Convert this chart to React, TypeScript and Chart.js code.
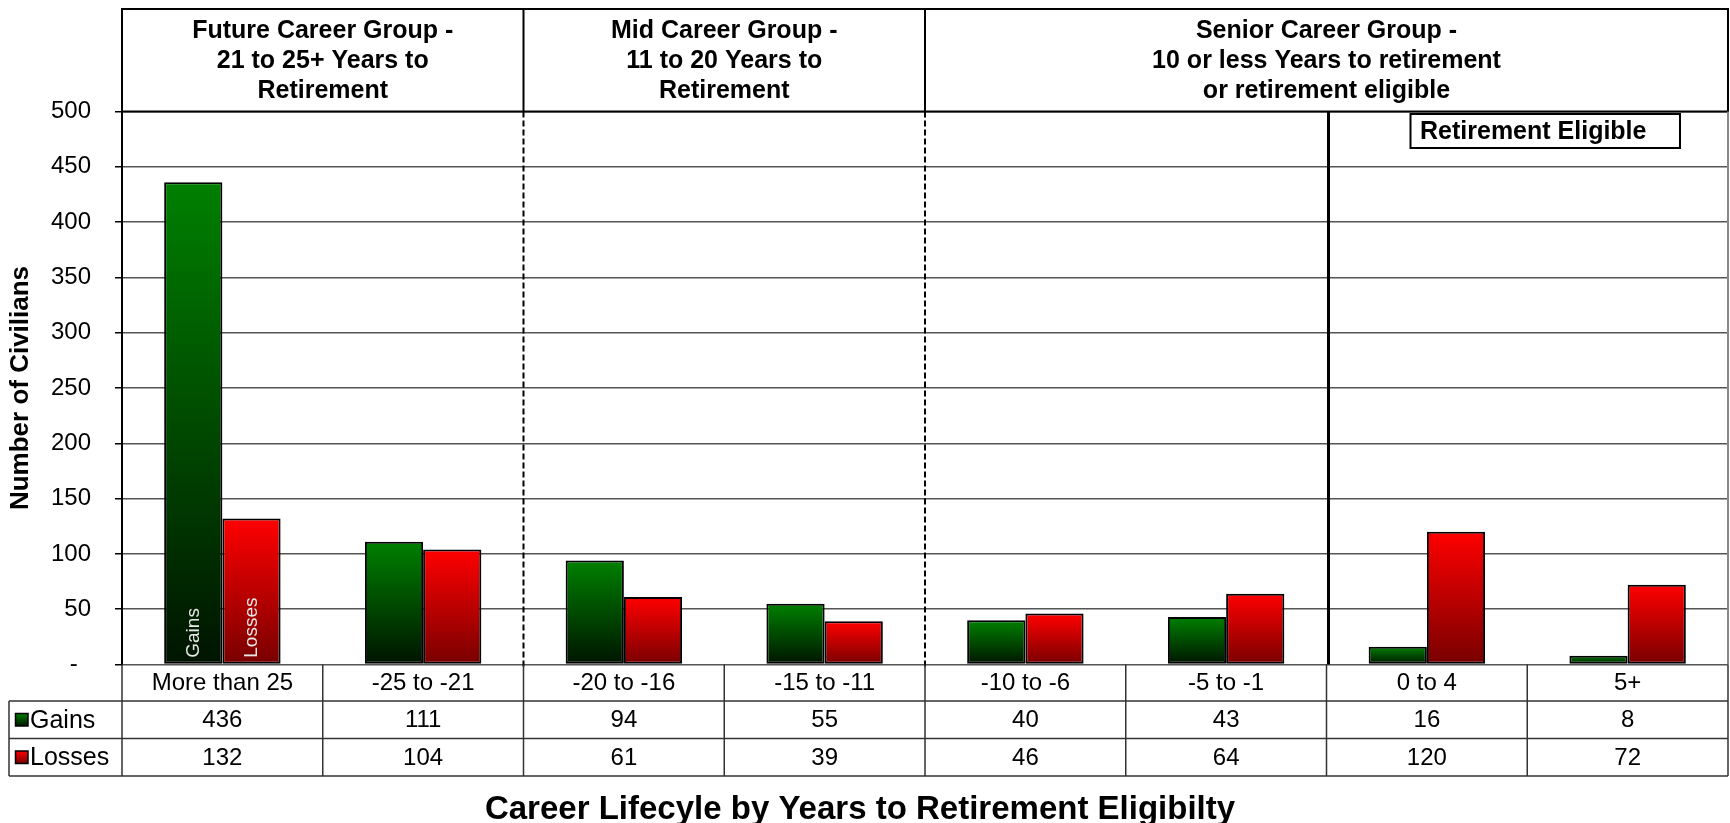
import { useEffect, useRef } from 'react';
import { Chart, registerables } from 'chart.js';

Chart.register(...registerables);

// Categories: years to retirement eligibility
const categories = ['More than 25', '-25 to -21', '-20 to -16', '-15 to -11', '-10 to -6', '-5 to -1', '0 to 4', '5+'];
const gains = [436, 111, 94, 55, 40, 43, 16, 8];
const losses = [132, 104, 61, 39, 46, 64, 120, 72];

const yMax = 500;
const yStep = 50;

// Career groups shown in the header band (category index ranges, inclusive)
const groupTitles = [
  ['Future Career Group -', '21 to 25+ Years to', 'Retirement'],
  ['Mid Career Group -', '11 to 20 Years to', 'Retirement'],
  ['Senior Career Group -', '10 or less Years to retirement', 'or retirement eligible'],
];
const groupStarts = [0, 2, 4];
const groupEnds = [1, 3, 7];

const eligibleStart = 6;
const eligibleLabel = 'Retirement Eligible';
const xTitle = 'Career Lifecyle by Years to Retirement Eligibilty';
const yTitle = 'Number of Civilians';

const FONT = '"Liberation Sans", Arial, Helvetica, sans-serif';
const GREEN_TOP = '#008000';
const GREEN_BOTTOM = '#001400';
const RED_TOP = '#ff0000';
const RED_BOTTOM = '#780000';

function barGradient(top: string, bottom: string) {
  return (ctx: any) => {
    if (ctx.type !== 'data') return top;
    const chart = ctx.chart;
    const ys = chart.scales && chart.scales.y;
    if (!ys) return top;
    const yTop = ys.getPixelForValue(ctx.raw);
    const yBase = ys.getPixelForValue(0);
    if (!isFinite(yTop) || !isFinite(yBase) || yTop === yBase) return top;
    const g = chart.ctx.createLinearGradient(0, yTop, 0, yBase);
    g.addColorStop(0, top);
    g.addColorStop(1, bottom);
    return g;
  };
}

const decorations = {
  id: 'careerDecorations',
  afterDraw(chart: any) {
    const { ctx, chartArea: ca, scales } = chart;
    const xs = scales.x;
    const half = (xs.getPixelForValue(1) - xs.getPixelForValue(0)) / 2;
    const edge = (i: number) => (i >= categories.length ? ca.right : xs.getPixelForValue(i) - half);

    ctx.save();

    // Header band
    const headerTop = 9;
    const headerBottom = ca.top;
    ctx.strokeStyle = '#000';
    ctx.lineWidth = 2;
    ctx.setLineDash([]);
    ctx.strokeRect(ca.left, headerTop, ca.right - ca.left, headerBottom - headerTop);

    ctx.fillStyle = '#000';
    ctx.textAlign = 'center';
    ctx.textBaseline = 'middle';
    ctx.font = `bold 25px ${FONT}`;
    const headerMid = (headerTop + headerBottom) / 2;
    groupTitles.forEach((lines, gi) => {
      const l = edge(groupStarts[gi]);
      const r = edge(groupEnds[gi] + 1);
      if (groupStarts[gi] > 0) {
        ctx.setLineDash([]);
        ctx.lineWidth = 2;
        ctx.beginPath();
        ctx.moveTo(l, headerTop);
        ctx.lineTo(l, headerBottom);
        ctx.stroke();
        ctx.setLineDash([6, 3]);
        ctx.beginPath();
        ctx.moveTo(l, headerBottom);
        ctx.lineTo(l, ca.bottom + 3);
        ctx.stroke();
        ctx.setLineDash([]);
      }
      lines.forEach((t, li) => {
        ctx.fillText(t, (l + r) / 2, headerMid + 1 + (li - 1) * 30);
      });
    });

    // Plot right border
    ctx.strokeStyle = '#888';
    ctx.lineWidth = 2;
    ctx.beginPath();
    ctx.moveTo(ca.right, ca.top);
    ctx.lineTo(ca.right, ca.bottom);
    ctx.stroke();

    // Retirement eligible divider and label box
    const ex = edge(eligibleStart);
    ctx.strokeStyle = '#000';
    ctx.lineWidth = 3;
    ctx.beginPath();
    ctx.moveTo(ex + 2, ca.top);
    ctx.lineTo(ex + 2, ca.bottom);
    ctx.stroke();

    const boxL = ex + 84;
    const boxR = ca.right - 48;
    const boxT = ca.top + 2.5;
    const boxH = 34;
    ctx.fillStyle = '#fff';
    ctx.fillRect(boxL, boxT, boxR - boxL, boxH);
    ctx.lineWidth = 2;
    ctx.strokeRect(boxL, boxT, boxR - boxL, boxH);
    ctx.fillStyle = '#000';
    ctx.font = `bold 25px ${FONT}`;
    ctx.fillText(eligibleLabel, (boxL + boxR) / 2 - 12, boxT + boxH / 2 + 1);

    // Data table under the plot
    const tableLeft = 9;
    const r0 = ca.bottom;
    const r1 = r0 + 36.5;
    const r2 = r1 + 37.5;
    const r3 = r2 + 37.5;
    ctx.strokeStyle = '#333';
    ctx.lineWidth = 1.5;
    ctx.beginPath();
    [r1, r2, r3].forEach((yy) => {
      ctx.moveTo(tableLeft, yy);
      ctx.lineTo(ca.right, yy);
    });
    ctx.moveTo(tableLeft, r1);
    ctx.lineTo(tableLeft, r3);
    ctx.moveTo(ca.left, r0);
    ctx.lineTo(ca.left, r3);
    for (let i = 1; i <= categories.length; i++) {
      const xx = edge(i);
      ctx.moveTo(xx, r0);
      ctx.lineTo(xx, r3);
    }
    ctx.stroke();

    ctx.fillStyle = '#000';
    ctx.font = `24px ${FONT}`;
    ctx.textAlign = 'center';
    categories.forEach((c, i) => {
      const cx = xs.getPixelForValue(i);
      ctx.fillText(c, cx, (r0 + r1) / 2 + 1);
      ctx.fillText(String(gains[i]), cx, (r1 + r2) / 2 + 1);
      ctx.fillText(String(losses[i]), cx, (r2 + r3) / 2 + 1);
    });

    // Series keys in the table
    const keys = [
      { label: chart.data.datasets[0].label, top: GREEN_TOP, bottom: GREEN_BOTTOM, y: (r1 + r2) / 2 },
      { label: chart.data.datasets[1].label, top: RED_TOP, bottom: RED_BOTTOM, y: (r2 + r3) / 2 },
    ];
    ctx.font = `25px ${FONT}`;
    keys.forEach((k) => {
      const s = 12.5;
      const g = ctx.createLinearGradient(0, k.y - s / 2, 0, k.y + s / 2);
      g.addColorStop(0, k.top);
      g.addColorStop(1, k.bottom);
      ctx.fillStyle = g;
      ctx.fillRect(15.5, k.y - s / 2, s, s);
      ctx.strokeStyle = '#000';
      ctx.lineWidth = 1.5;
      ctx.strokeRect(15.5, k.y - s / 2, s, s);
      ctx.fillStyle = '#000';
      ctx.textAlign = 'left';
      ctx.fillText(k.label, 30, k.y + 1);
    });

    // Series names written inside the first pair of bars
    ctx.font = `19px ${FONT}`;
    ctx.fillStyle = '#e8e8e8';
    ctx.textAlign = 'left';
    ctx.textBaseline = 'middle';
    [0, 1].forEach((di) => {
      const bar = chart.getDatasetMeta(di).data[0];
      if (!bar) return;
      ctx.save();
      ctx.translate(bar.x, bar.base - 6);
      ctx.rotate(-Math.PI / 2);
      ctx.fillText(chart.data.datasets[di].label, 0, 0);
      ctx.restore();
    });

    // Category axis title
    ctx.fillStyle = '#000';
    ctx.font = `bold 33px ${FONT}`;
    ctx.textAlign = 'center';
    ctx.textBaseline = 'middle';
    ctx.fillText(xTitle, 860, 810);

    ctx.restore();
  },
};

export default function App() {
  const ref = useRef<HTMLCanvasElement | null>(null);

  useEffect(() => {
    if (!ref.current) return;
    Chart.defaults.font.family = FONT;
    const chart = new Chart(ref.current, {
      type: 'bar',
      data: {
        labels: categories,
        datasets: [
          {
            label: 'Gains',
            data: gains,
            backgroundColor: barGradient(GREEN_TOP, GREEN_BOTTOM),
            borderColor: '#000',
            borderWidth: 2,
            borderSkipped: false,
            categoryPercentage: 0.58,
            barPercentage: 1,
          },
          {
            label: 'Losses',
            data: losses,
            backgroundColor: barGradient(RED_TOP, RED_BOTTOM),
            borderColor: '#000',
            borderWidth: 2,
            borderSkipped: false,
            categoryPercentage: 0.58,
            barPercentage: 1,
          },
        ],
      },
      options: {
        responsive: false,
        devicePixelRatio: 1,
        animation: false,
        layout: { padding: { top: 111.5, bottom: 158.5, left: 0, right: 2 } },
        plugins: {
          legend: { display: false },
          tooltip: { enabled: false },
        },
        scales: {
          x: { display: false },
          y: {
            min: 0,
            max: yMax,
            afterFit: (scale: any) => {
              scale.width = 122;
            },
            ticks: {
              stepSize: yStep,
              padding: 24,
              color: '#000',
              font: { size: 24, family: FONT },
              callback: (v: any) => (Number(v) === 0 ? '-  ' : String(v)),
            },
            grid: {
              color: '#555',
              lineWidth: 1.5,
              drawTicks: true,
              tickLength: 7,
              tickColor: '#000',
              tickWidth: 1.5,
            },
            border: { display: true, color: '#000', width: 2 },
            title: {
              display: true,
              text: yTitle,
              color: '#000',
              font: { size: 26, weight: 'bold', family: FONT },
              padding: { top: 5, bottom: 0 },
            },
          },
        },
      },
      plugins: [decorations],
    });
    return () => chart.destroy();
  }, []);

  return (
    <div style={{ position: 'absolute', left: 0, top: 0, width: 1730, height: 823, background: '#fff' }}>
      <canvas ref={ref} width={1730} height={823} style={{ display: 'block', width: 1730, height: 823 }} />
    </div>
  );
}
